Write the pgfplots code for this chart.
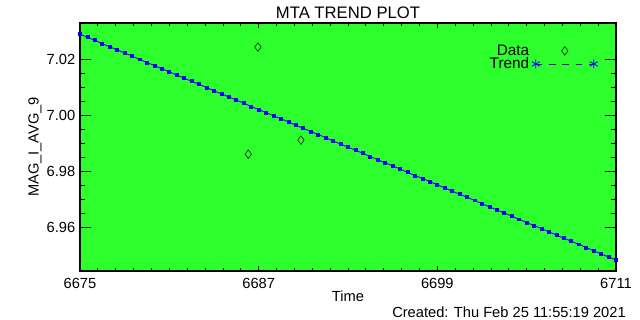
\documentclass[border=0pt]{standalone}
\usepackage{pgfplots}
\pgfplotsset{compat=1.18}
\usepackage{fontspec}
\setmainfont{Liberation Sans}
\definecolor{bggreen}{RGB}{44,255,44}
\pgfplotsset{
  datalegend/.style={legend image code/.code={\draw[##1] plot coordinates {(21.75pt,0pt)};}},
  trendlegend/.style={legend image code/.code={\draw[blue, line width=0.6pt, dash pattern=on 5pt off 5pt, mark=asterisk, mark size=3.4pt, mark options={solid}] plot coordinates {(0pt,0pt) (43.5pt,0pt)};}},
}
\begin{document}
\begin{tikzpicture}[x=0.75pt,y=0.75pt]
\useasboundingbox (0,0) rectangle (640,320);
\begin{axis}[
  at={(60pt,36.75pt)}, anchor=south west,
  scale only axis, width=402pt, height=186pt,
  xmin=6675, xmax=6711, ymin=6.9444, ymax=7.0329,
  axis background/.style={fill=bggreen},
  axis line style={black, line width=0.8pt},
  xtick={6675,6687,6699,6711},
  ytick={6.96,6.98,7.00,7.02},
  minor x tick num=9, minor y tick num=3,
  tick align=inside,
  major tick length=8pt, minor tick length=4pt,
  xtick style={/pgfplots/major tick length=3.8pt,/pgfplots/minor tick length=1.9pt},
  tick style={black, line width=0.6pt},
  /pgf/number format/assume math mode=true,
  x tick label style={/pgf/number format/set thousands separator={}, /pgf/number format/fixed, yshift=-2pt},
  y tick label style={/pgf/number format/fixed, /pgf/number format/fixed zerofill, /pgf/number format/precision=2},
  tick label style={font=\fontsize{11}{13}\selectfont},
  title={MTA TREND PLOT},
  title style={font=\fontsize{12.5}{14}\selectfont, yshift=-6pt},
  ylabel={MAG\_I\_AVG\_9},
  ylabel style={font=\fontsize{11}{13}\selectfont, yshift=-3pt},
  xlabel={Time},
  xlabel style={font=\fontsize{11}{13}\selectfont, yshift=5pt},
  legend style={draw=none, fill=none, at={(1,1)}, anchor=north east,
    xshift=-10.5pt, yshift=-12pt, font=\fontsize{11.5}{13}\selectfont,
    row sep=-3.8pt},
  legend plot pos=right,
  legend cell align=right,
]
\addplot[only marks, mark=diamond, mark size=3.2pt, black, thin, datalegend]
  coordinates {(6686.95,7.0243) (6686.3,6.9861) (6689.84,6.9911)};
\addlegendentry{Data}
\addplot[blue, line width=0.6pt, mark=square*, mark size=1.1pt, trendlegend]
  coordinates {
(6675,7.0289) (6675.5,7.0278) (6676,7.0267) (6676.5,7.0255) (6677,7.0244)
(6677.5,7.0233) (6678,7.0222) (6678.5,7.0211) (6679,7.0199) (6679.5,7.0188)
(6680,7.0177) (6680.5,7.0166) (6681,7.0155) (6681.5,7.0143) (6682,7.0132)
(6682.5,7.0121) (6683,7.0110) (6683.5,7.0099) (6684,7.0087) (6684.5,7.0076)
(6685,7.0065) (6685.5,7.0054) (6686,7.0043) (6686.5,7.0031) (6687,7.0020)
(6687.5,7.0009) (6688,6.9998) (6688.5,6.9987) (6689,6.9976) (6689.5,6.9964)
(6690,6.9953) (6690.5,6.9942) (6691,6.9931) (6691.5,6.9920) (6692,6.9908)
(6692.5,6.9897) (6693,6.9886) (6693.5,6.9875) (6694,6.9864) (6694.5,6.9852)
(6695,6.9841) (6695.5,6.9830) (6696,6.9819) (6696.5,6.9808) (6697,6.9796)
(6697.5,6.9785) (6698,6.9774) (6698.5,6.9763) (6699,6.9752) (6699.5,6.9740)
(6700,6.9729) (6700.5,6.9718) (6701,6.9707) (6701.5,6.9696) (6702,6.9684)
(6702.5,6.9673) (6703,6.9662) (6703.5,6.9651) (6704,6.9640) (6704.5,6.9628)
(6705,6.9617) (6705.5,6.9606) (6706,6.9595) (6706.5,6.9584) (6707,6.9572)
(6707.5,6.9561) (6708,6.9550) (6708.5,6.9539) (6709,6.9528) (6709.5,6.9516)
(6710,6.9505) (6710.5,6.9494) (6711,6.9483)
  };
\addlegendentry{Trend}
\end{axis}
\node[anchor=east, font=\fontsize{11}{13}\selectfont, inner sep=0pt] at (626,8) {Created: Thu Feb 25 11:55:19 2021};
\end{tikzpicture}
\end{document}
